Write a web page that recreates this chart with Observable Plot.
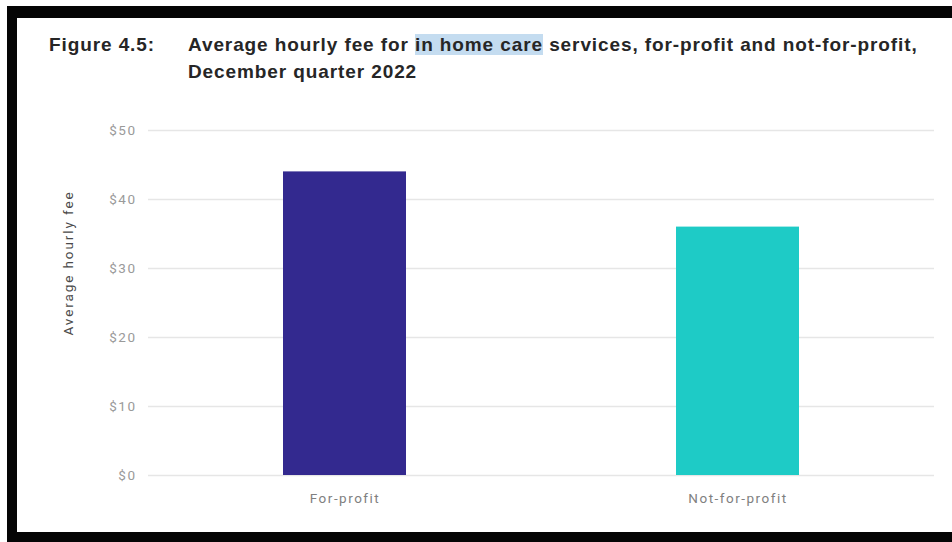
<!DOCTYPE html>
<html>
<head>
<meta charset="utf-8">
<script src="https://cdn.jsdelivr.net/npm/d3@7"></script>
<script src="https://cdn.jsdelivr.net/npm/@observablehq/plot@0.6"></script>
<style>
  html, body { margin: 0; padding: 0; background: #ffffff; }
  #page { position: relative; width: 952px; height: 542px; overflow: hidden; background: #fff; }
  .bar-top { position: absolute; left: 7px; top: 6px; width: 945px; height: 12px; background: #050505; }
  .bar-left { position: absolute; left: 7px; top: 6px; width: 10px; height: 536px; background: #050505; }
  .bar-bottom { position: absolute; left: 7px; top: 532px; width: 945px; height: 10px; background: #050505; }
  .title { position: absolute; top: 31px; font-family: "Liberation Sans", Arial, sans-serif; font-weight: bold; font-size: 19px; letter-spacing: 0.9px; line-height: 27px; color: #262626; white-space: nowrap; }
  .fig { left: 49px; }
  .txt { left: 188px; }
  .hl { background: #c4dcf0; }
  .ylab { position: absolute; left: 68px; top: 263px; transform: translate(-50%, -50%) rotate(-90deg); font-family: Roboto, sans-serif; font-size: 13.5px; letter-spacing: 1.9px; color: #4a4a4a; white-space: nowrap; }
  #chart { position: absolute; left: 0; top: 110px; }
  #chart text { letter-spacing: 1.5px; }
</style>
</head>
<body>
<div id="page">
  <div class="bar-top"></div>
  <div class="bar-left"></div>
  <div class="bar-bottom"></div>
  <div class="title fig">Figure 4.5:</div>
  <div class="title txt">Average hourly fee for <span class="hl">in home care</span> services, for-profit and not-for-profit,<br>December quarter 2022</div>
  <div class="ylab">Average hourly fee</div>
  <div id="chart"></div>
</div>
<script>
const categories = ["For-profit", "Not-for-profit"];
const fees = [44, 36];
const colors = ["#33298f", "#1ecbc6"];
const yTicks = [0, 10, 20, 30, 40, 50];

const data = categories.map((c, i) => ({category: c, fee: fees[i]}));

const chart = Plot.plot({
  width: 952,
  height: 410,
  marginLeft: 148,
  marginRight: 18,
  marginTop: 20,
  marginBottom: 45,
  style: {fontFamily: "Roboto, sans-serif", fontSize: "13.5px", background: "transparent"},
  x: {domain: categories, paddingInner: 0.686, paddingOuter: 0.343, label: null},
  y: {domain: [0, 50], label: null},
  color: {domain: categories, range: colors},
  marks: [
    Plot.gridY(yTicks, {stroke: "#e6e6e6", strokeOpacity: 1, strokeWidth: 1.5}),
    Plot.barY(data, {x: "category", y: "fee", fill: "category"}),
    Plot.axisY(yTicks, {tickSize: 0, tickPadding: 12, tickFormat: d => "$" + d, fill: "#9a9a9a", fontSize: 13.5, label: null}),
    Plot.axisX({tickSize: 0, tickPadding: 18, fill: "#808080", fontSize: 13.5, label: null})
  ]
});
document.getElementById("chart").appendChild(chart);
</script>
</body>
</html>
